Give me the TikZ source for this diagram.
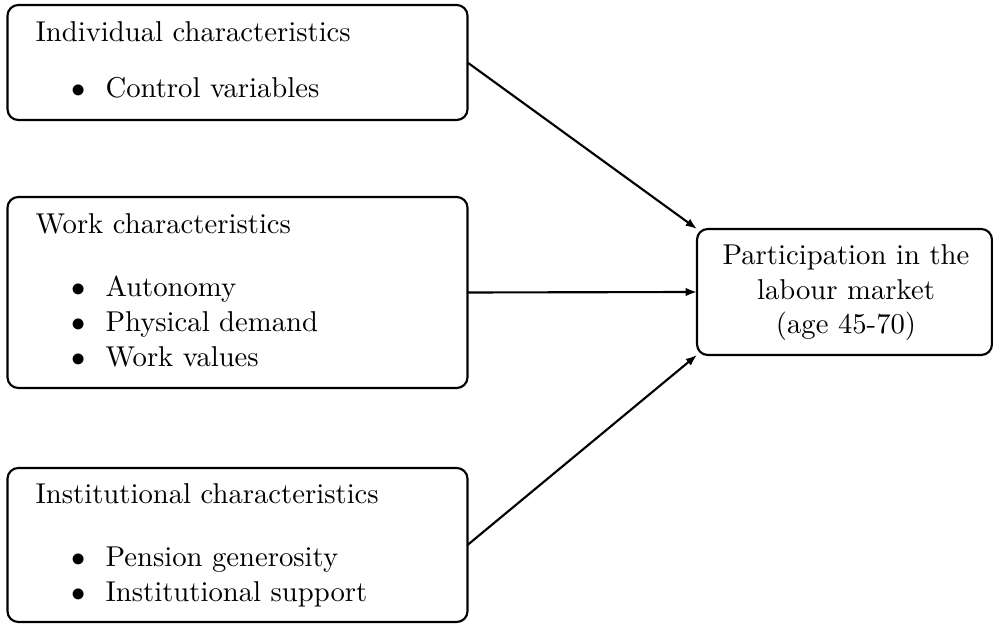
\documentclass[tikz,border=0pt]{standalone}
\usetikzlibrary{arrows.meta}
\begin{document}
\begin{tikzpicture}[x=0.3522pt,y=-0.3522pt,
  box/.style={draw,line width=0.75pt,rounded corners=3.8pt,inner sep=0pt,outer sep=0pt},
  txt/.style={anchor=base west,inner sep=0pt,font=\fontsize{10.1}{12}\selectfont},
  ctxt/.style={anchor=base,inner sep=0pt,font=\fontsize{10.1}{12}\selectfont},
  bul/.style={anchor=base,inner sep=0pt,font=\fontsize{10.1}{12}\selectfont},
  arr/.style={line width=0.75pt,-{Latex[length=4pt,width=3pt]}}]
\useasboundingbox (0,0) rectangle (993,625);
% left boxes
\node[box,minimum width=460*0.3522pt,minimum height=115*0.3522pt] (b1) at (237.5,62.5) {};
\node[box,minimum width=460*0.3522pt,minimum height=191*0.3522pt] (b2) at (237.5,292.5) {};
\node[box,minimum width=460*0.3522pt,minimum height=154*0.3522pt] (b3) at (237.5,545) {};
% right box
\node[box,minimum width=295*0.3522pt,minimum height=126*0.3522pt] (out) at (844.5,292) {};
\node[ctxt] (o1) at (846,265) {Participation in the};
\node[ctxt] (o2) at (846,299.5) {labour market};
\node[ctxt] (o3) at (846,334) {(age 45-70)};
% texts box 1
\node[txt] (t1) at (35,42) {Individual characteristics};
\node[bul] (u11) at (79,98) {$\bullet$};
\node[txt] (i11) at (105,98) {Control variables};
% texts box 2
\node[txt] (t2) at (35,234) {Work characteristics};
\node[bul] (u21) at (79,297) {$\bullet$};
\node[txt] (i21) at (105,297) {Autonomy};
\node[bul] (u22) at (79,332) {$\bullet$};
\node[txt] (i22) at (105,332) {Physical demand};
\node[bul] (u23) at (79,367) {$\bullet$};
\node[txt] (i23) at (105,367) {Work values};
% texts box 3
\node[txt] (t3) at (35,504) {Institutional characteristics};
\node[bul] (u31) at (79,566.5) {$\bullet$};
\node[txt] (i31) at (105,566.5) {Pension generosity};
\node[bul] (u32) at (79,601.5) {$\bullet$};
\node[txt] (i32) at (105,601.5) {Institutional support};
% arrows
\draw[arr] (b1.east) -- (out.north west);
\draw[arr] (b2.east) -- (out.west);
\draw[arr] (b3.east) -- (out.south west);
\end{tikzpicture}
\end{document}
